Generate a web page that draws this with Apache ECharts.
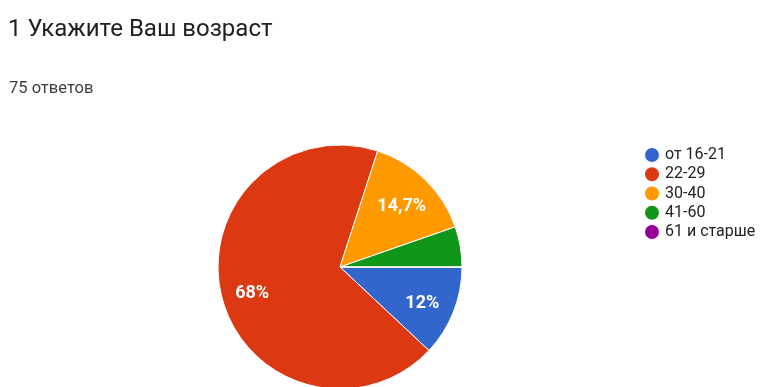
<!DOCTYPE html>
<html>
<head>
<meta charset="utf-8">
<script src="https://cdn.jsdelivr.net/npm/echarts@6/dist/echarts.min.js"></script>
<style>
  html, body { margin: 0; padding: 0; background: #fff; }
  #chart { width: 760px; height: 387px; }
</style>
</head>
<body>
<div id="chart"></div>
<script>
// Age groups of respondents (75 answers)
const categories = ['от 16-21', '22-29', '30-40', '41-60', '61 и старше'];
const counts = [9, 51, 11, 4, 0];
const percentLabels = ['12%', '68%', '14,7%', '', ''];
const colors = ['#3366cc', '#dc3912', '#ff9900', '#109618', '#990099'];

const FONT = 'Roboto, Arial, sans-serif';
const center = [340, 267];
const R = 122;

const chart = echarts.init(document.getElementById('chart'), null, { renderer: 'canvas' });

const sliceData = categories.map((name, i) => ({
  name,
  value: counts[i],
  itemStyle: { color: colors[i] }
}));

// Transparent ring carrying the percentage labels, placed at ~0.71 of the radius
const labelData = categories.map((name, i) => ({
  name,
  value: counts[i],
  label: { show: percentLabels[i] !== '', formatter: percentLabels[i] }
}));

chart.setOption({
  animation: false,
  color: colors,
  title: [
    {
      text: '1 Укажите Ваш возраст',
      left: 3, top: 13,
      textStyle: { fontFamily: FONT, fontSize: 24, fontWeight: 'normal', color: '#202124' }
    },
    {
      text: '75 ответов',
      left: 4, top: 75,
      textStyle: { fontFamily: FONT, fontSize: 16.5, fontWeight: 'normal', color: '#3c4043' }
    }
  ],
  legend: {
    orient: 'vertical',
    left: 638, top: 141,
    icon: 'circle',
    itemWidth: 16, itemHeight: 16, itemGap: 1.25,
    data: categories,
    textStyle: { fontFamily: FONT, fontSize: 16, lineHeight: 16, color: '#222' },
    selectedMode: false
  },
  series: [
    {
      type: 'pie',
      center, radius: [0, R],
      startAngle: 0, clockwise: true,
      silent: true,
      label: { show: false },
      labelLine: { show: false },
      itemStyle: { borderColor: '#fff', borderWidth: 1 },
      data: sliceData
    },
    {
      type: 'pie',
      center, radius: [R * 0.42, R],
      startAngle: 0, clockwise: true,
      silent: true,
      legendHoverLink: false,
      itemStyle: { color: 'rgba(0,0,0,0)' },
      label: {
        position: 'inside',
        offset: [-1, 4],
        color: '#fff',
        fontFamily: FONT,
        fontSize: 18,
        fontWeight: 'bold'
      },
      labelLine: { show: false },
      data: labelData
    }
  ]
});
</script>
</body>
</html>
